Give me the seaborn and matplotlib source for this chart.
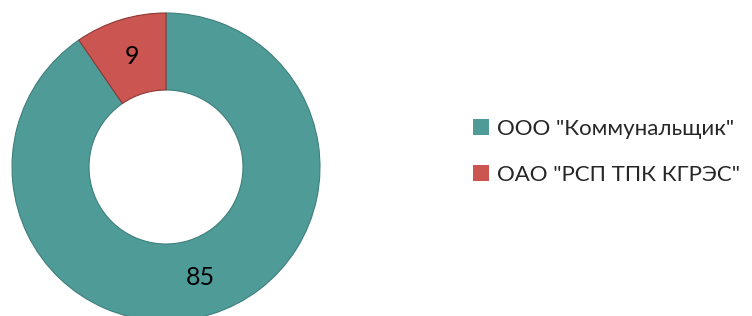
import matplotlib
matplotlib.use("Agg")
import matplotlib.pyplot as plt
import matplotlib.patches as mpatches
import seaborn as sns

labels = ['ООО "Коммунальщик"', 'ОАО "РСП ТПК КГРЭС"']
values = [85, 9]
colors = ["#4F9B98", "#CB5550"]
edge_colors = ["#3F7F7C", "#8E3835"]

sns.set_theme(style="white")
plt.rcParams['font.family'] = ['Lato', 'DejaVu Sans']

W, H = 752, 316
fig = plt.figure(figsize=(W / 100, H / 100), dpi=100)
ax = fig.add_axes([0, 0, 1, 1])

cx, cy, R = 166, H - 167, 154
wedges, texts = ax.pie(values, colors=colors, startangle=90, counterclock=False,
                       center=(cx, cy), radius=R, labels=[str(v) for v in values],
                       labeldistance=0.75, frame=True,
                       wedgeprops=dict(width=R * 0.5, linewidth=0.8),
                       textprops=dict(fontsize=18, color="black", ha="center", va="center"))
for w, ec in zip(wedges, edge_colors):
    w.set_edgecolor(ec)
ax.set_xlim(0, W)
ax.set_ylim(0, H)
ax.set_aspect('equal')
ax.axis('off')

handles = [mpatches.Patch(facecolor=c, edgecolor="none") for c in colors]
leg = fig.legend(handles, labels, loc="center left",
                 bbox_to_anchor=(473 / W, 1 - 152 / H), frameon=False,
                 fontsize=16, handlelength=0.72, handleheight=0.72,
                 handletextpad=0.36, labelspacing=1.16,
                 borderpad=0, borderaxespad=0)

fig.savefig("out.png", dpi=100)
